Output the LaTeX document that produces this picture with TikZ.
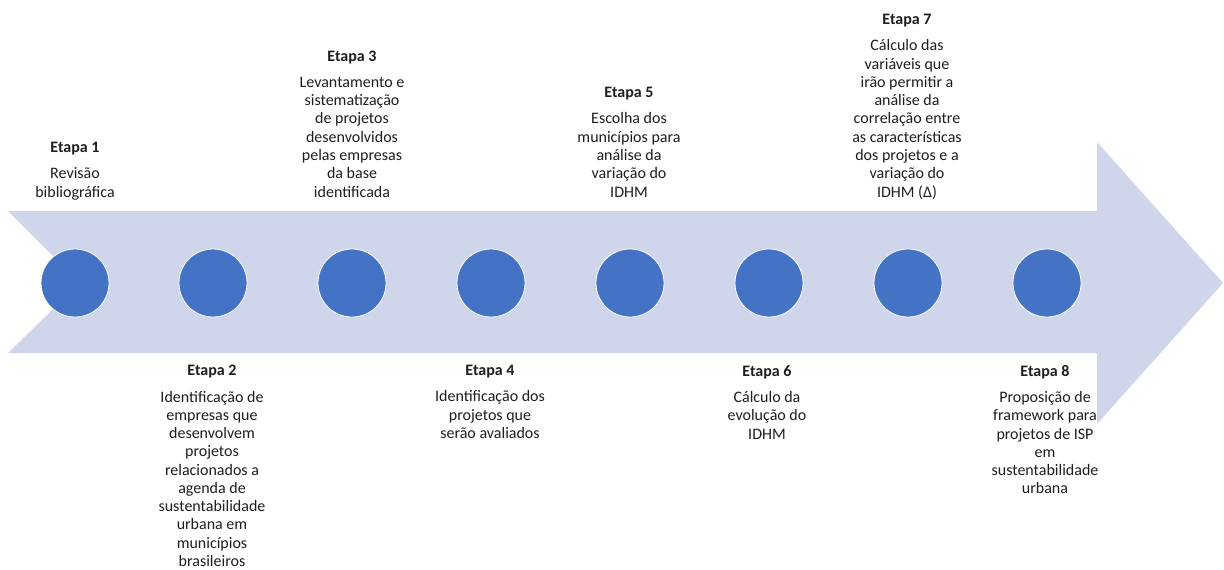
\documentclass[tikz,border=0pt]{standalone}
\usepackage{fontspec}
\setmainfont{Carlito}
\definecolor{arrowfill}{HTML}{CFD5EA}
\definecolor{dotfill}{HTML}{4472C4}
\definecolor{txt}{HTML}{1E1E1E}
\begin{document}
\begin{tikzpicture}[x=0.75pt,y=-0.75pt,
  dot/.style={circle,fill=dotfill,draw=white,line width=0.6pt,minimum size=51pt,inner sep=0pt},
  lbl/.style={align=center,text=txt,font=\fontsize{12}{13.7}\selectfont,inner sep=0pt},
  uplbl/.style={lbl,anchor=base},
  downlbl/.style={lbl,anchor=north}]
\useasboundingbox (0,0) rectangle (1224,569);
\fill[white] (0,0) rectangle (1224,569);
% big arrow
\fill[arrowfill] (8,211) -- (1097,211) -- (1097,142) -- (1223,283) -- (1097,424) -- (1097,353) -- (8,353) -- (80,283) -- cycle;
% circles
\foreach \i/\x in {1/75,2/213,3/352,4/491,5/630,6/769,7/908,8/1047}{
  \node[dot] (c\i) at (\x,283) {};
}
% top labels
\node[uplbl] (t1) at (75,197) {\textbf{Etapa 1}\\[6pt]Revisão\\bibliográfica};
\node[uplbl] (t3) at (352,197) {\textbf{Etapa 3}\\[6pt]Levantamento e\\sistematização\\de projetos\\desenvolvidos\\pelas empresas\\da base\\identificada};
\node[uplbl] (t5) at (629,197) {\textbf{Etapa 5}\\[6pt]Escolha dos\\municípios para\\análise da\\variação do\\IDHM};
\node[uplbl] (t7) at (907,197) {\textbf{Etapa 7}\\[6pt]Cálculo das\\variáveis que\\irão permitir a\\análise da\\correlação entre\\as características\\dos projetos e a\\variação do\\IDHM (Δ)};
% bottom labels
\node[downlbl] (t2) at (212,365) {\textbf{Etapa 2}\\[6pt]Identificação de\\empresas que\\desenvolvem\\projetos\\relacionados a\\agenda de\\sustentabilidade\\urbana em\\municípios\\brasileiros};
\node[downlbl] (t4) at (490,365) {\textbf{Etapa 4}\\[6pt]Identificação dos\\projetos que\\serão avaliados};
\node[downlbl] (t6) at (767,365) {\textbf{Etapa 6}\\[6pt]Cálculo da\\evolução do\\IDHM};
\node[downlbl] (t8) at (1045,365) {\textbf{Etapa 8}\\[6pt]Proposição de\\framework para\\projetos de ISP\\em\\sustentabilidade\\urbana};
\end{tikzpicture}
\end{document}
